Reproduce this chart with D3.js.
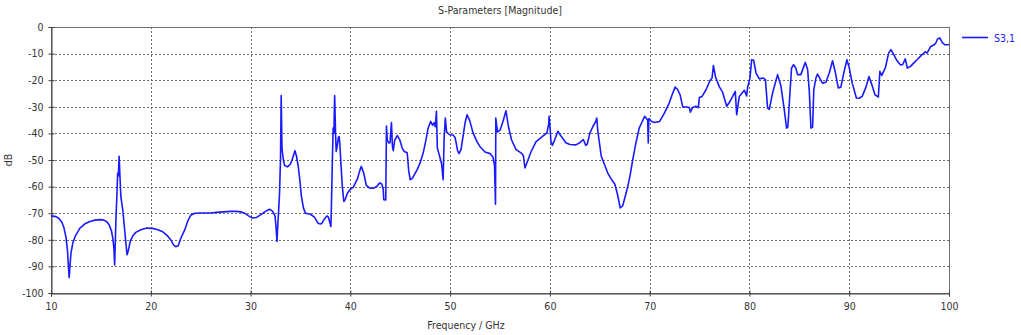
<!DOCTYPE html>
<html><head><meta charset="utf-8">
<script src="https://cdn.jsdelivr.net/npm/d3@7"></script>
<style>
html,body{margin:0;padding:0;background:#fff;}
svg text{font-family:"DejaVu Sans Condensed","DejaVu Sans",sans-serif;font-size:10.5px;fill:#333;}
</style></head>
<body><svg id="chart" width="1021" height="335"></svg>
<script>
const title = "S-Parameters [Magnitude]";
const xLabel = "Frequency / GHz";
const yLabel = "dB";
const seriesName = "S3,1";
const xTicks = [10,20,30,40,50,60,70,80,90,100];
const yTicks = [0,-10,-20,-30,-40,-50,-60,-70,-80,-90,-100];
const freq = [10.0,10.5,10.8,11.1,11.3,11.5,11.65,11.75,11.82,11.9,12.0,12.2,12.45,12.9,13.4,13.9,14.4,14.9,15.3,15.6,15.85,16.05,16.2,16.3,16.38,16.45,16.52,16.6,16.68,16.75,16.83,16.92,17.0,17.2,17.35,17.5,17.62,17.75,17.95,18.2,18.5,19.0,19.6,20.2,20.7,21.2,21.6,22.0,22.3,22.5,22.75,23.0,23.4,23.7,24.0,24.4,25.0,26.0,26.6,27.3,28.0,28.6,29.0,29.4,29.8,30.2,30.6,31.0,31.5,31.9,32.2,32.45,32.55,32.65,32.72,32.8,32.9,33.0,33.07,33.15,33.25,33.4,33.7,34.0,34.2,34.45,34.6,34.78,34.95,35.1,35.3,35.5,36.0,36.4,36.8,37.1,37.35,37.65,37.8,37.95,38.05,38.1,38.2,38.28,38.35,38.43,38.52,38.58,38.68,38.8,38.88,38.95,39.05,39.2,39.35,39.5,39.7,40.0,40.3,40.7,40.95,41.1,41.35,41.6,41.95,42.3,42.65,42.95,43.15,43.3,43.35,43.55,43.62,43.7,43.85,43.98,44.12,44.22,44.3,44.45,44.7,44.95,45.2,45.4,45.7,45.85,46.0,46.2,46.7,47.0,47.3,47.55,47.8,48.05,48.25,48.4,48.52,48.63,48.72,48.95,49.15,49.3,49.4,49.52,49.65,49.95,50.3,50.5,50.75,50.9,51.1,51.3,51.5,51.7,51.95,52.3,52.7,53.0,53.5,54.0,54.3,54.45,54.55,54.58,54.75,55.0,55.3,55.6,55.85,56.15,56.6,57.2,57.35,57.5,57.7,58.1,58.6,59.2,59.7,59.88,59.92,60.02,60.1,60.25,60.5,60.8,61.15,61.6,62.0,62.6,63.0,63.35,63.6,63.75,64.0,64.3,64.6,64.7,64.8,65.15,65.5,65.8,66.2,66.5,66.75,67.05,67.3,67.6,67.8,68.05,68.3,68.6,68.95,69.2,69.5,69.8,69.86,69.92,70.2,70.5,71.0,71.46,71.96,72.25,72.55,72.8,73.05,73.32,73.65,73.98,74.08,74.3,74.65,74.88,74.98,75.25,75.65,76.05,76.25,76.39,76.6,77.0,77.3,77.72,77.98,78.32,78.58,78.72,78.98,79.49,79.72,79.82,80.05,80.22,80.42,80.66,80.99,81.39,81.6,81.82,81.99,82.32,82.82,83.16,83.49,83.72,83.85,84.06,84.22,84.42,84.65,84.82,85.15,85.6,85.83,86.0,86.16,86.33,86.45,86.66,86.82,87.32,87.66,88.0,88.33,88.6,88.9,89.16,89.49,89.77,90.0,90.3,90.72,91.0,91.3,91.65,91.98,92.32,92.58,92.92,93.07,93.26,93.62,93.95,94.18,94.45,94.78,95.12,95.35,95.62,95.82,96.15,96.48,96.8,97.3,97.63,97.8,98.18,98.5,98.68,98.85,99.08,99.35,99.6,99.9,100.0];
const s31 = [-71,-71.3,-72,-73.5,-75.5,-79,-84,-90,-94.2,-90,-85,-81,-78.5,-75.6,-74,-73.1,-72.6,-72.4,-72.6,-73.2,-74.5,-76.5,-79.5,-83,-89.5,-80,-71,-63.7,-55,-56,-48.6,-57,-63.7,-69,-75,-81,-85.6,-84,-80.5,-78.5,-77.2,-76.2,-75.6,-75.7,-76.2,-77,-78.2,-80,-82,-82.6,-82.2,-79.5,-76.3,-73,-70.8,-70,-69.9,-69.9,-69.7,-69.5,-69.3,-69.3,-69.5,-70,-71,-71.8,-71.6,-70.6,-69.3,-68.5,-69.2,-71,-75,-80.6,-75,-70,-63,-50,-25.8,-45.5,-49,-52,-52.6,-51.5,-49.5,-46.5,-48.5,-52.4,-58,-63.7,-68,-70,-70.4,-71.5,-73.9,-74,-72.5,-71,-71.5,-73.5,-75,-68,-50,-38,-40,-25.8,-40,-46.8,-45,-41.5,-41.2,-44,-51,-60,-65.6,-64.8,-62.5,-61,-60.2,-57.2,-54,-52.4,-55,-59.5,-60.6,-60.6,-60,-58.6,-59,-61,-64.9,-65,-37.2,-42.5,-43.6,-43.5,-35.9,-45,-46.5,-42.5,-40.8,-42.4,-45.5,-46.8,-47.3,-54,-57.4,-57,-53.6,-51,-47.4,-43,-38,-35.5,-37,-36,-37.5,-31.7,-45.5,-48.6,-51.5,-57.4,-42,-34.2,-39.5,-40.5,-40.6,-41.5,-46.5,-47.6,-46,-41,-36,-33,-35,-39.8,-43.2,-45,-47,-47.6,-49,-52,-66.6,-34.2,-39.5,-38.8,-35.5,-31.5,-37.5,-42.4,-46,-47.6,-48.5,-53,-51,-47,-43.2,-41.3,-39.8,-36.5,-33.6,-38,-43,-44.5,-42.2,-39.2,-41.2,-43.5,-44.2,-44.3,-43.5,-42.3,-44.5,-44,-40,-37.5,-35.5,-34.2,-39,-48.6,-52,-54.9,-57.5,-59,-62.5,-68,-67.2,-63,-60,-55.5,-50,-44,-38,-36,-33.6,-35,-43.6,-34.4,-35.5,-35.9,-35.5,-32.5,-28.6,-25.5,-22.6,-23.5,-25.5,-30.1,-30.1,-30.3,-32,-30.3,-29.8,-30.3,-26.5,-26.1,-23.6,-20.1,-19.2,-14.5,-18.8,-22.6,-24.4,-29.8,-28.4,-26.1,-24.2,-33,-26.1,-23.8,-25.9,-22.6,-19.2,-12.3,-12.5,-17.3,-19.5,-19.2,-19.8,-30.5,-31,-24.8,-17.9,-22.3,-31.1,-38,-37.6,-24.8,-15.4,-14.2,-15.4,-17.9,-17.9,-13.3,-16,-24.2,-38,-37.6,-23.6,-19.2,-17.7,-21.1,-20.8,-17.3,-12.7,-16.9,-22.9,-22.6,-16.7,-12.3,-15.3,-21.1,-26.7,-26.8,-26.1,-22.9,-18.6,-22.3,-25.5,-26.3,-16.7,-18.2,-15.4,-9.8,-8.5,-10.3,-12.6,-14.2,-14.2,-12,-15.4,-14.8,-13.5,-12.3,-10.4,-9.3,-9.8,-7.3,-6.7,-6,-4.5,-4.1,-6,-6.7,-6.7,-6.7];

const svg = d3.select("#chart");
const L = 51, R = 949, T = 27, B = 293;
const x = d3.scaleLinear().domain([10,100]).range([L,R]);
const y = d3.scaleLinear().domain([-100,0]).range([B,T]);
const gridColor = "#6a6a6a";

// grid
svg.append("g").selectAll("line.vg").data(xTicks.filter(d=>d>10&&d<100)).join("line")
  .attr("x1",d=>Math.round(x(d))+0.5).attr("x2",d=>Math.round(x(d))+0.5)
  .attr("y1",T).attr("y2",B)
  .attr("stroke",gridColor).attr("stroke-width",1).attr("stroke-dasharray","2,2");
svg.append("g").selectAll("line.hg").data(yTicks.filter(d=>d<0&&d>-100)).join("line")
  .attr("y1",d=>Math.round(y(d))+0.5).attr("y2",d=>Math.round(y(d))+0.5)
  .attr("x1",L).attr("x2",R)
  .attr("stroke",gridColor).attr("stroke-width",1).attr("stroke-dasharray","2,2");

// frame
svg.append("rect").attr("x",L+0.5).attr("y",T+0.5).attr("width",R-L).attr("height",B-T)
  .attr("fill","none").attr("stroke","#707070").attr("stroke-width",1);

// axes
const xAxis = d3.axisBottom(x).tickValues(xTicks).tickSize(3).tickPadding(6).tickFormat(d3.format("d"));
const gx = svg.append("g").attr("transform",`translate(0,${B+0.5})`).call(xAxis);
gx.select(".domain").attr("stroke","#404040");
gx.selectAll(".tick line").attr("stroke","#404040").attr("y1",-3);
gx.selectAll("text").attr("fill","#333").style("font-size","10.5px");

const yAxis = d3.axisLeft(y).tickValues(yTicks).tickSize(3).tickPadding(5).tickFormat(d3.format("d"));
const gy = svg.append("g").attr("transform",`translate(${L+0.5},0)`).call(yAxis);
gy.select(".domain").attr("stroke","#404040");
gy.selectAll(".tick line").attr("stroke","#404040").attr("x1",3);
gy.selectAll("text").attr("fill","#333").style("font-size","10.5px");
gy.selectAll("text").text(d=>d===0?"0":String(d).replace("\u2212","-"));

// curve
const line = d3.line().x((d,i)=>x(freq[i])).y(d=>y(d));
svg.append("path").datum(s31).attr("d",line).attr("fill","none")
  .attr("stroke","#1a1aff").attr("stroke-width",1.6).attr("stroke-linejoin","round");

// titles
svg.append("text").attr("x",500).attr("y",14).attr("text-anchor","middle").text(title);
svg.append("text").attr("x",466).attr("y",329).attr("text-anchor","middle").text(xLabel);
svg.append("text").attr("transform","translate(12,160) rotate(-90)").attr("text-anchor","middle").text(yLabel);

// legend
svg.append("line").attr("x1",962).attr("x2",988).attr("y1",37.5).attr("y2",37.5)
  .attr("stroke","#1a1aff").attr("stroke-width",1.6);
svg.append("text").attr("x",994).attr("y",41.5).style("fill","#1a1aff").text(seriesName);
</script></body></html>
